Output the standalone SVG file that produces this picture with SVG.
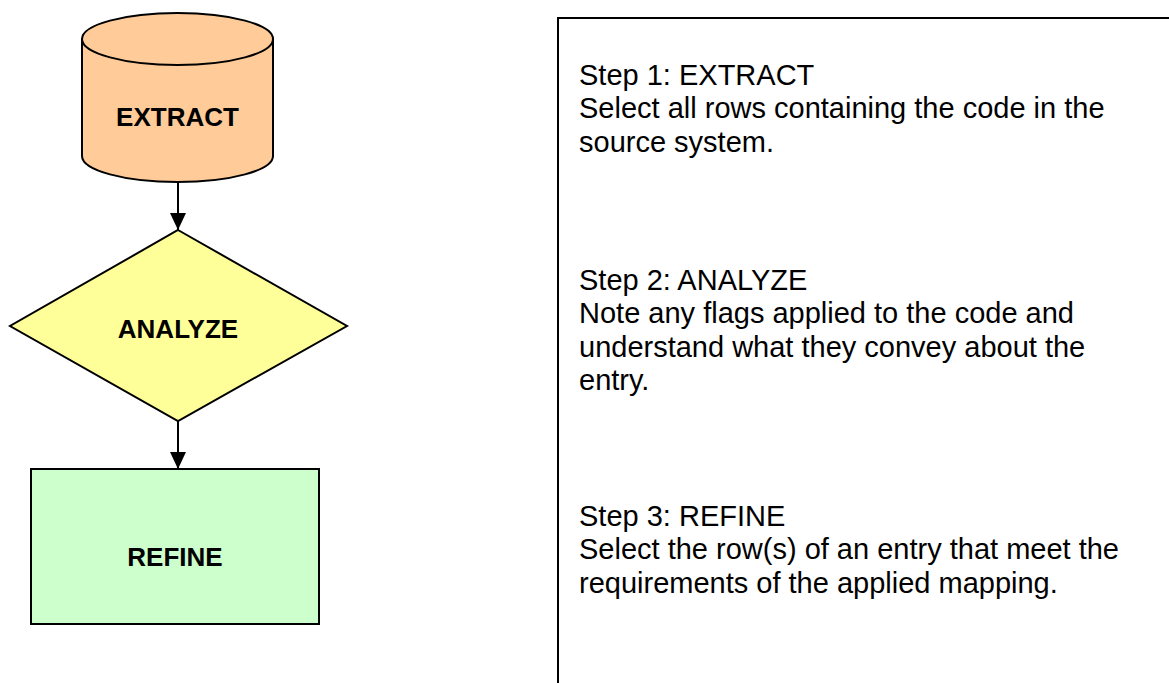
<svg xmlns="http://www.w3.org/2000/svg" width="1169" height="683" viewBox="0 0 1169 683">
  <style>
    .shape { stroke: #000; stroke-width: 2; }
    .lbl { font-family: "Liberation Sans", Arial, sans-serif; font-size: 26px; font-weight: bold; fill: #000; text-anchor: middle; }
    .desc { font-family: "Liberation Sans", Arial, sans-serif; font-size: 29px; fill: #000; }
    .conn { stroke: #000; stroke-width: 2; fill: none; }
  </style>
  <defs>
    <marker id="arrow" markerUnits="userSpaceOnUse" markerWidth="17" markerHeight="16" refX="17" refY="8" orient="auto">
      <path d="M0,0 L17,8 L0,16 Z" fill="#000"/>
    </marker>
  </defs>
  <rect x="0" y="0" width="1169" height="683" fill="#fff"/>

  <g id="extract">
    <path class="shape" fill="#FFCC99" d="M82,39 L82,156 A95.5,26 0 0 0 273,156 L273,39"/>
    <ellipse class="shape" fill="#FFCC99" cx="177.5" cy="39" rx="95.5" ry="26"/>
    <text class="lbl" x="177.5" y="126">EXTRACT</text>
  </g>

  <g id="analyze">
    <polygon class="shape" fill="#FFFF99" points="178,230 347,326 178,421 10,326"/>
    <text class="lbl" x="178" y="338">ANALYZE</text>
  </g>

  <g id="refine">
    <rect class="shape" fill="#CCFFCC" x="31" y="469" width="288" height="155"/>
    <text class="lbl" x="175" y="566">REFINE</text>
  </g>

  <g id="connectors">
    <line class="conn" x1="178" y1="182" x2="178" y2="230" marker-end="url(#arrow)"/>
    <line class="conn" x1="178" y1="421" x2="178" y2="469" marker-end="url(#arrow)"/>
  </g>

  <g id="notes">
    <path class="shape" fill="#fff" d="M558,684 L558,18 L1170,18"/>
    <text class="desc" x="579" y="85">Step 1: EXTRACT</text>
    <text class="desc" x="579" y="118.3">Select all rows containing the code in the</text>
    <text class="desc" x="579" y="151.7">source system.</text>
    <text class="desc" x="579" y="290">Step 2: ANALYZE</text>
    <text class="desc" x="579" y="323.3">Note any flags applied to the code and</text>
    <text class="desc" x="579" y="356.7">understand what they convey about the</text>
    <text class="desc" x="579" y="390">entry.</text>
    <text class="desc" x="579" y="526">Step 3: REFINE</text>
    <text class="desc" x="579" y="559.3">Select the row(s) of an entry that meet the</text>
    <text class="desc" x="579" y="592.7">requirements of the applied mapping.</text>
  </g>
</svg>
